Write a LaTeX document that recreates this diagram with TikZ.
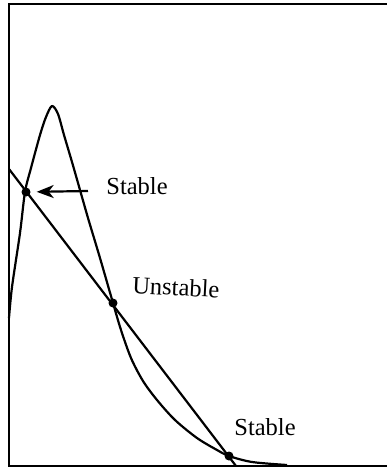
\documentclass[tikz,border=0pt]{standalone}
\usepackage{fontspec}
\setmainfont{Liberation Serif}
\usetikzlibrary{arrows.meta}
\begin{document}
\begin{tikzpicture}[x=1pt,y=-1pt,
  frameline/.style={line width=2.5pt},
  curveline/.style={line width=2.2pt,line join=round},
  dotnode/.style={circle,fill=black,inner sep=0pt,minimum size=9pt},
  lbl/.style={font=\fontsize{24.5}{26}\selectfont,inner sep=0pt},
  arr/.style={line width=2.2pt,-{Stealth[length=17pt,width=13pt,inset=5pt]}}]
\useasboundingbox (0,0) rectangle (387,469);
% frame
\coordinate (tl) at (9,4);
\coordinate (tr) at (387,4);
\coordinate (bl) at (9,466);
\coordinate (br) at (387,466);
\draw[frameline] (tr) -- (tl) -- (bl) -- (br);
% straight line
\coordinate (ls) at (9,169);
\coordinate (le) at (236,466);
\draw[curveline] (ls) -- (le);
% hump curve
\draw[curveline] plot[smooth,tension=0.5] coordinates {
 (9,318) (12,287) (20,233) (25,192) (31,168) (40,135) (46,117) (52,106)
 (58,114) (64,135) (72,162) (80,190) (88,218) (100,258) (113,303)
 (121,330) (131,358) (143,381) (157,400) (175,420) (197,438) (217,450)
 (229,456) (252,462) (287,465)};
% equilibrium points
\node[dotnode] (s1) at (26,192) {};
\node[dotnode] (u) at (113,303) {};
\node[dotnode] (s2) at (229,456) {};
% labels
\node[lbl] (ls1) at (137,186) {Stable};
\node[lbl,rotate=-3] (lu) at (176,287) {Unstable};
\node[lbl] (ls2) at (265,427) {Stable};
% arrow
\coordinate (atail) at (88,191);
\draw[arr,shorten >=6pt] (atail) -- (s1);
\end{tikzpicture}
\end{document}
